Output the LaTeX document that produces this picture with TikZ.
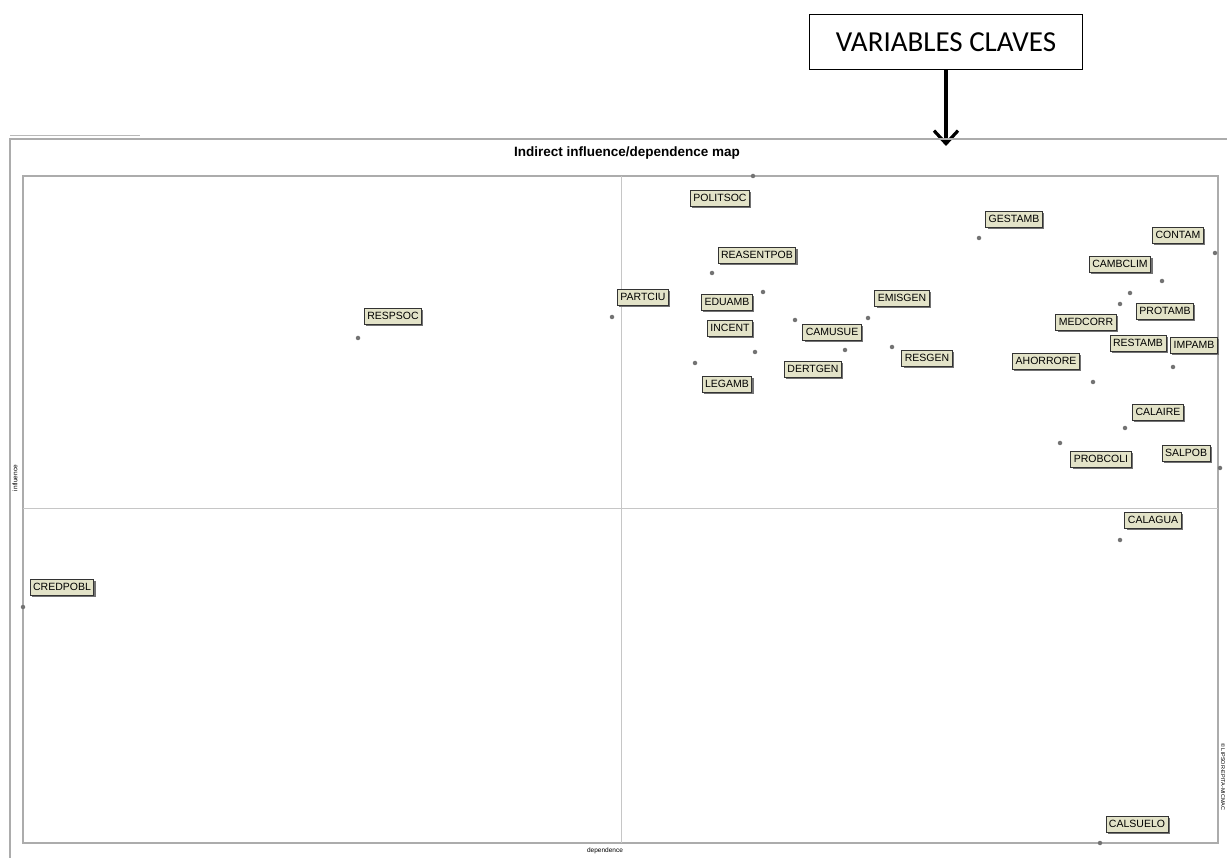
\documentclass[tikz,border=0pt]{standalone}
\usepackage{fontspec}
\setmainfont{Carlito}
\newfontfamily\mapfont{Liberation Sans}
\usetikzlibrary{arrows.meta,shadows}
\definecolor{labfill}{HTML}{E3E3C8}

\begin{document}
\begin{tikzpicture}[x=1pt,y=-1pt,
    keybox/.style={draw,thick,minimum width=273pt,minimum height=55pt,font=\fontsize{29}{29}\selectfont},
    var/.style={draw=black!80,fill=labfill,line width=0.9pt,inner xsep=3pt,minimum height=16pt,
      font=\mapfont\fontsize{10.5}{10.5}\selectfont,
      drop shadow={shadow xshift=1.8pt,shadow yshift=-1.8pt,fill=black!55,opacity=1}},
    vpoint/.style={circle,fill=black!55,inner sep=0pt,minimum size=4.5pt},
    frame/.style={gray!65,line width=1.3pt}]

    % Fix the size of the page
    \useasboundingbox (0,0) rectangle (1227,858);

    % Draw the key box and its arrow
    \node[keybox] (key) at (946,42) {VARIABLES CLAVES};
    \coordinate (target) at (946,146);
    \draw[-{Straight Barb[length=13pt,width=24pt]},line width=3.2pt] (key) -- (target);

    % Draw the frames of the map
    \draw[gray!55,line width=1pt] (10,136) -- (140,136);
    \draw[frame] (10,858) -- (10,139) -- (1227,139);
    \draw[frame] (23,176) rectangle (1218,843);
    \draw[gray!45,line width=0.7pt] (621,176) -- (621,843);
    \draw[gray!45,line width=0.7pt] (23,508) -- (1218,508);

    % Title and axis texts
    \node[font=\mapfont\bfseries\fontsize{13.5}{13.5}\selectfont] (title) at (627,153) {Indirect influence/dependence map};
    \node[font=\mapfont\fontsize{6.5}{6.5}\selectfont,rotate=90] (ylab) at (15,478) {influence};
    \node[font=\mapfont\fontsize{6.5}{6.5}\selectfont] (xlab) at (605,851) {dependence};
    \node[font=\mapfont\fontsize{5.5}{5.5}\selectfont,rotate=-90] (mark) at (1223,777) {\textcopyright{} LIPSOR-EPITA-MICMAC};

    % Draw the points of the variables
    \foreach \name/\px/\py in {politsoc/753/176, gestamb/979/238, contam/1215/253,
        reasentpob/712/273, cambclim/1162/281, partciu/612/317, eduamb/763/292,
        emisgen/868/318, protamb/1130/293, medcorr/1120/304, impamb/1173/367,
        incent/755/352, camusue/795/320, dertgen/845/350, resgen/892/347,
        ahorrore/1093/382, legamb/695/363, respsoc/358/338, calaire/1125/428,
        probcoli/1060/443, salpob/1220/468, calagua/1120/540, credpob/23/607,
        calsuelo/1100/843}
      \node[vpoint] (\name-p) at (\px,\py) {};

    % Draw the labels of the variables
    \foreach \name/\px/\py/\txt in {politsoc/720/198/POLITSOC, gestamb/1014/219/GESTAMB,
        contam/1178/235/CONTAM, reasentpob/757/255/REASENTPOB, cambclim/1120/264/CAMBCLIM,
        partciu/643/297/PARTCIU, eduamb/727/302/EDUAMB, emisgen/902/298/EMISGEN,
        protamb/1165/311/PROTAMB, medcorr/1086/322/MEDCORR, restamb/1138/343/RESTAMB,
        impamb/1194/345/IMPAMB, incent/730/328/INCENT, camusue/832/332/CAMUSUE,
        dertgen/813/369/DERTGEN, resgen/927/358/RESGEN, ahorrore/1046/361/AHORRORE,
        legamb/727/384/LEGAMB, respsoc/393/316/RESPSOC, calaire/1158/412/CALAIRE,
        probcoli/1101/459/PROBCOLI, salpob/1186/453/SALPOB, calagua/1153/520/CALAGUA,
        credpob/62/587/CREDPOBL, calsuelo/1137/824/CALSUELO}
      \node[var] (\name) at (\px,\py) {\txt};

\end{tikzpicture}
\end{document}
